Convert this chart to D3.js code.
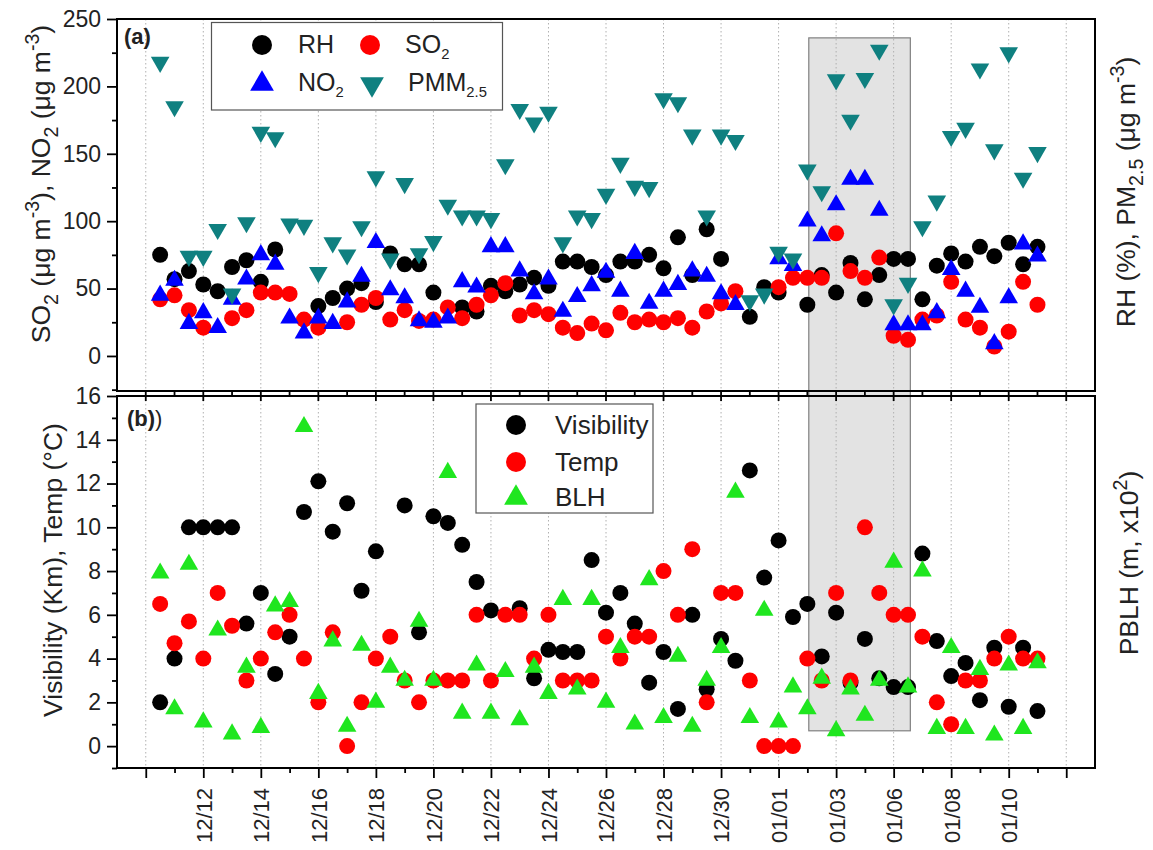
<!DOCTYPE html>
<html><head><meta charset="utf-8">
<script src="https://cdn.jsdelivr.net/npm/d3@7"></script>
<style>body{margin:0;background:#fff}svg{font-family:"Liberation Sans",Arial,sans-serif}</style>
</head><body><svg id="c" width="1153" height="850"></svg>
<script>
// ---------- DATA ----------
const days = [0.5,1,1.5,2,2.5,3,3.5,4,4.5,5,5.5,6,6.5,7,7.5,8,8.5,9,9.5,10,10.5,11,11.5,12,12.5,13,13.5,14,14.5,15,15.5,16,16.5,17,17.5,18,18.5,19,19.5,20,20.5,21,21.5,22,22.5,23,23.5,24,24.5,25,25.5,26,26.5,27,27.5,28,28.5,29,29.5,30,30.5,31];
const xTickDays = [0,2,4,6,8,10,12,14,16,18,20,22,24,26,28,30,32];
const xTickLabels = ["","12/12","12/14","12/16","12/18","12/20","12/22","12/24","12/26","12/28","12/30","01/01","01/03","01/06","01/08","01/10",""];
const xMinorDays = [-1,1,3,5,7,9,11,13,15,17,19,21,23,25,27,29,31,33];

const RH   = [75,57,63,53,48,66,71,55,79,null,null,37,43,50,54,40,76,68,68,47,null,36,33,52,48,53,58,52,70,70,66,60,70,70,75,65,88,60,94,72,null,29,51,47,null,38,60,47,69,42,60,72,72,42,67,76,70,81,74,84,68,81];
const SO2  = [42,45,34,21,null,28,34,47,47,46,27,21,null,25,38,43,27,34,26,27,36,28,38,45,54,30,34,31,21,17,24,19,32,25,27,25,28,21,33,39,48,null,null,51,58,58,58,91,63,58,73,15,12,27,30,55,27,21,7,18,55,38];
const NO2  = [45,56,24,32,21,42,57,75,68,28,17,28,24,40,59,84,49,43,26,25,28,55,51,81,81,63,46,57,33,44,52,62,48,76,39,48,53,63,59,46,38,null,null,72,67,100,89,112,131,131,108,23,23,23,32,64,48,36,9,43,83,74];
const PM25 = [218,185,74,74,94,46,99,166,162,98,97,62,84,75,96,133,72,128,76,85,112,104,104,102,142,183,173,181,84,104,102,120,143,126,125,191,188,164,104,164,160,41,46,77,72,138,122,205,175,206,227,38,54,96,115,163,169,213,153,225,132,151];

const Vis  = [2,4,10,10,10,10,5.6,7,3.3,5,10.7,12.1,9.8,11.1,7.1,8.9,null,11,5.2,10.5,10.2,9.2,7.5,6.2,null,6.3,3.1,4.4,4.3,4.3,8.5,6.1,7,5.6,2.9,4.3,1.7,6,2.6,4.9,3.9,12.6,7.7,9.4,5.9,6.5,4.1,6.1,2.9,4.9,3.1,2.7,2.7,8.8,4.8,3.2,3.8,2.1,4.5,1.8,4.5,1.6];
const Temp = [6.5,4.7,5.7,4,7,5.5,3,4,5.2,6,4,2,5.2,0,2,4,5,3,2,3,3,3,6,3,6,6,4,6,3,3,3,5,4,5,5,8,6,9,2,7,7,3,0,0,0,4,3,7,3,10,7,6,6,5,2,1,3,3,4,5,4,4];
const BLH  = [7.9,1.7,8.3,1.1,5.3,0.55,3.6,0.85,6.4,6.6,14.6,2.4,4.8,0.9,4.6,2.0,3.6,3.0,5.7,3.0,12.5,1.5,3.7,1.5,3.4,1.2,3.6,2.4,6.7,2.6,6.7,2.0,4.5,1.0,7.6,1.3,4.1,0.9,3.0,4.5,11.6,1.3,6.2,1.1,2.7,1.7,3.1,0.7,2.6,1.4,3.0,8.4,2.7,8.0,0.8,4.5,0.8,3.5,0.5,3.7,0.8,3.8];

const topTicks = [0,50,100,150,200,250];
const topMinor = [-25,25,75,125,175,225];
const botTicks = [0,2,4,6,8,10,12,14,16];
const botMinor = [-1,1,3,5,7,9,11,13,15];
const shadeX = [23.05, 26.58];   // shaded period (days)
const shadeTopVal = 236, shadeBotVal = 0.7;

// ---------- SETUP ----------
const svg = d3.select("#c");
const L = 117, R = 1095;
const x = d3.scaleLinear().domain([-1,33]).range([L,R]);
const yTop = d3.scaleLinear().domain([-26,250]).range([391,19]);
const yBot = d3.scaleLinear().domain([-1,16]).range([768,396]);

const C = {black:"#000000", red:"#ff0000", blue:"#0000ff", teal:"#0f8080", green:"#1fe61f"};
const circ = d3.symbol().type(d3.symbolCircle).size(Math.PI*8*8);
const tri = d3.symbol().type(d3.symbolTriangle).size(150);
const circL = d3.symbol().type(d3.symbolCircle).size(Math.PI*10*10);
const triL = d3.symbol().type(d3.symbolTriangle).size(245);

// shaded box
svg.append("rect")
  .attr("x", x(shadeX[0])).attr("y", yTop(shadeTopVal))
  .attr("width", x(shadeX[1]) - x(shadeX[0]))
  .attr("height", yBot(shadeBotVal) - yTop(shadeTopVal))
  .attr("fill", "#e3e3e3").attr("stroke", "#808080").attr("stroke-width", 1.2);

// vertical dotted grid
const grid = svg.append("g").attr("stroke", "#b0b0b0").attr("stroke-width", 1).attr("stroke-dasharray", "1.5,2.5");
xTickDays.forEach(d => {
  grid.append("line").attr("x1", x(d)).attr("x2", x(d)).attr("y1", yTop.range()[1]).attr("y2", yTop.range()[0]);
  grid.append("line").attr("x1", x(d)).attr("x2", x(d)).attr("y1", yBot.range()[1]).attr("y2", yBot.range()[0]);
});

// ---------- MARKERS ----------
function plot(vals, yS, sym, color, rot) {
  svg.append("g").selectAll("path")
    .data(days.map((d,i)=>({d, v: vals[i]})).filter(p => p.v !== null))
    .join("path")
    .attr("d", sym)
    .attr("transform", p => `translate(${x(p.d)},${yS(p.v)})` + (rot ? " rotate(180)" : ""))
    .attr("fill", color);
}
plot(RH, yTop, circ, C.black);
plot(SO2, yTop, circ, C.red);
plot(NO2, yTop, tri, C.blue);
plot(PM25, yTop, tri, C.teal, true);
plot(Vis, yBot, circ, C.black);
plot(Temp, yBot, circ, C.red);
plot(BLH, yBot, tri, C.green);

// ---------- AXES ----------
const tickFont = 23;
function styleAxis(g) {
  g.select(".domain").remove();
  g.selectAll(".tick line").attr("stroke", "#000").attr("stroke-width", 1.8);
  g.selectAll("text").attr("font-size", tickFont).attr("fill", "#222").attr("font-family", "Liberation Sans, Arial, sans-serif");
}
svg.append("g").attr("transform", `translate(${L},0)`)
  .call(d3.axisLeft(yTop).tickValues(topTicks).tickSize(10).tickPadding(6)).call(styleAxis);
svg.append("g").attr("transform", `translate(${L},0)`)
  .call(d3.axisLeft(yTop).tickValues(topMinor).tickSize(5).tickFormat("")).call(styleAxis);
svg.append("g").attr("transform", `translate(${L},0)`)
  .call(d3.axisLeft(yBot).tickValues(botTicks).tickSize(10).tickPadding(6)).call(styleAxis);
svg.append("g").attr("transform", `translate(${L},0)`)
  .call(d3.axisLeft(yBot).tickValues(botMinor).tickSize(5).tickFormat("")).call(styleAxis);

// bottom x axis
const xa = svg.append("g").attr("transform", `translate(0,${yBot.range()[0]})`)
  .call(d3.axisBottom(x).tickValues(xTickDays).tickSize(10).tickFormat((d,i)=>xTickLabels[i])).call(styleAxis);
xa.selectAll("text").attr("font-size", 22)
  .attr("transform", "rotate(-90)").attr("x", -20).attr("y", 0).attr("dy", "0.36em").attr("text-anchor", "end");
svg.append("g").attr("transform", `translate(0,${yBot.range()[0]})`)
  .call(d3.axisBottom(x).tickValues(xMinorDays.filter(d=>d>-1&&d<33)).tickSize(5).tickFormat("")).call(styleAxis);

// middle ticks between panels
const mid = svg.append("g").attr("stroke", "#000").attr("stroke-width", 1.8);
xMinorDays.filter(d=>d>-1&&d<33).forEach(d => mid.append("line").attr("x1", x(d)).attr("x2", x(d)).attr("y1", 391).attr("y2", 396));
xTickDays.forEach(d => mid.append("line").attr("x1", x(d)).attr("x2", x(d)).attr("y1", 391).attr("y2", 401));

// frames
[[yTop.range()[1], yTop.range()[0]], [yBot.range()[1], yBot.range()[0]]].forEach(([t,b]) => {
  svg.append("rect").attr("x", L).attr("y", t).attr("width", R-L).attr("height", b-t)
    .attr("fill", "none").attr("stroke", "#000").attr("stroke-width", 2);
});

// ---------- TEXT ----------
function rich(sel, parts, size) {
  let cur = 0;
  parts.forEach(p => {
    const shift = p.sub ? size*0.32 : p.sup ? -size*0.42 : 0;
    const ts = sel.append("tspan").attr("dy", shift - cur).text(p.t);
    if (p.sub || p.sup) ts.attr("font-size", size*0.74);
    cur = shift;
  });
}
const TF = 26.5;
function vtitle(cx, cy, parts) {
  const t = svg.append("text").attr("transform", `translate(${cx},${cy}) rotate(-90)`)
    .attr("text-anchor", "middle").attr("font-size", TF).attr("fill", "#222");
  rich(t, parts, TF);
}
vtitle(50, 184, [{t:"SO"},{t:"2",sub:1},{t:" (μg m"},{t:"-3",sup:1},{t:"), NO"},{t:"2",sub:1},{t:" (μg m"},{t:"-3",sup:1},{t:")"}]);
vtitle(62, 570, [{t:"Visibility (Km), Temp (°C)"}]);
vtitle(1135, 192, [{t:"RH (%), PM"},{t:"2.5",sub:1},{t:" (μg m"},{t:"-3",sup:1},{t:")"}]);
vtitle(1138, 563, [{t:"PBLH (m, x10"},{t:"2",sup:1},{t:")"}]);

svg.append("text").attr("x", 124).attr("y", 44).attr("font-size", 22).attr("font-weight", "bold").attr("fill", "#222").text("(a)");
const tb = svg.append("text").attr("x", 127).attr("y", 426).attr("font-size", 22).attr("fill", "#222");
tb.append("tspan").attr("font-weight", "bold").text("(b)");
tb.append("tspan").text(")");

// ---------- LEGENDS ----------
const LF = 25;
const lg1 = svg.append("g");
lg1.append("rect").attr("x", 211.5).attr("y", 22.5).attr("width", 291).attr("height", 87.5)
  .attr("fill", "#fff").attr("stroke", "#555").attr("stroke-width", 1.2);
const items1 = [
  {cx:262, cy:45, sym:circL, c:C.black, tx:298, ty:53, parts:[{t:"RH"}]},
  {cx:370, cy:45, sym:circL, c:C.red, tx:405, ty:53, parts:[{t:"SO"},{t:"2",sub:1}]},
  {cx:262, cy:84, sym:triL, c:C.blue, tx:298, ty:91, parts:[{t:"NO"},{t:"2",sub:1}]},
  {cx:372, cy:84, sym:triL, c:C.teal, tx:408, ty:91, parts:[{t:"PMM"},{t:"2.5",sub:1}], rot:true}
];
items1.forEach(it => {
  lg1.append("path").attr("d", it.sym).attr("fill", it.c)
    .attr("transform", `translate(${it.cx},${it.cy})` + (it.rot ? " rotate(180)" : ""));
  const t = lg1.append("text").attr("x", it.tx).attr("y", it.ty).attr("font-size", LF).attr("fill", "#222");
  rich(t, it.parts, 20);
});

const lg2 = svg.append("g");
lg2.append("rect").attr("x", 476).attr("y", 404).attr("width", 177).attr("height", 109)
  .attr("fill", "#fff").attr("stroke", "#555").attr("stroke-width", 1.2);
const items2 = [
  {cy:425, sym:circL, c:C.black, label:"Visibility", ty:434},
  {cy:462, sym:circL, c:C.red, label:"Temp", ty:471},
  {cy:498, sym:triL, c:C.green, label:"BLH", ty:506}
];
items2.forEach(it => {
  lg2.append("path").attr("d", it.sym).attr("fill", it.c).attr("transform", `translate(516,${it.cy})`);
  lg2.append("text").attr("x", 555).attr("y", it.ty).attr("font-size", 26).attr("fill", "#222").text(it.label);
});
</script></body></html>
